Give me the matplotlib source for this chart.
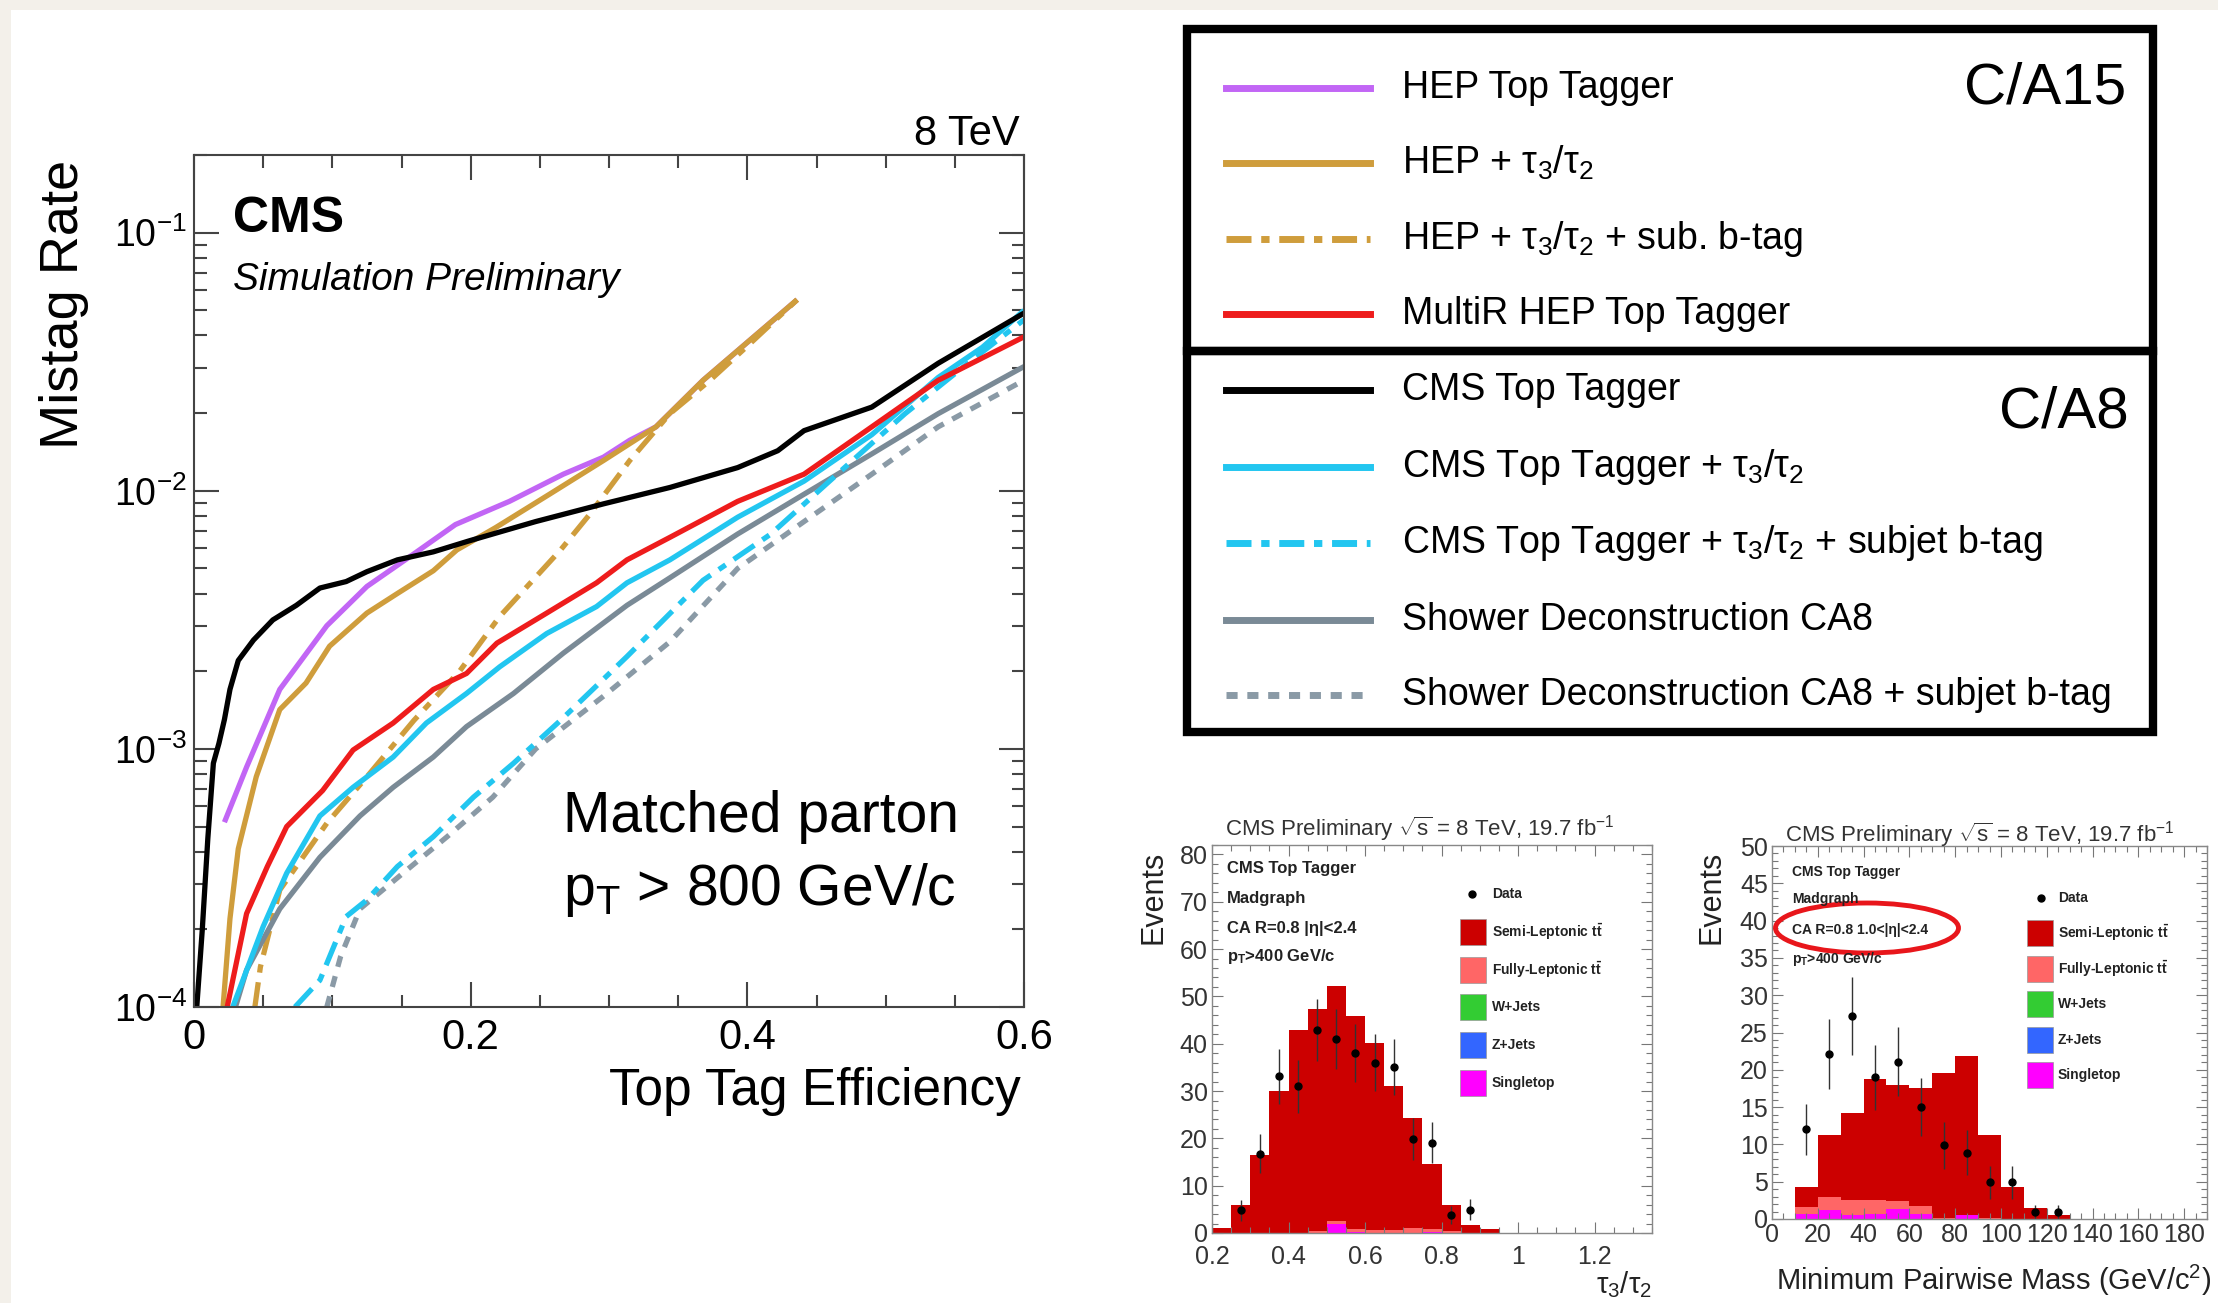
import numpy as np
import matplotlib
matplotlib.use("Agg")
import matplotlib.pyplot as plt
from matplotlib.patches import Rectangle, Ellipse
from matplotlib.lines import Line2D
from matplotlib.ticker import (LogLocator, MultipleLocator, NullFormatter,
                               LogFormatterMathtext, FuncFormatter)

plt.rcParams['font.family'] = ['Liberation Sans', 'DejaVu Sans']
plt.rcParams['mathtext.fontset'] = 'custom'
plt.rcParams['mathtext.rm'] = 'Liberation Sans'
plt.rcParams['mathtext.it'] = 'Liberation Sans:italic'
plt.rcParams['mathtext.bf'] = 'Liberation Sans:bold'
plt.rcParams['mathtext.default'] = 'regular'
plt.rcParams['lines.scale_dashes'] = False

# ---------------- ROC curves: top-tag efficiency vs mistag rate ----------------
hep_eff = [0.022, 0.038, 0.062, 0.096, 0.125, 0.159, 0.189, 0.228, 0.267, 0.296, 0.315, 0.334, 0.368, 0.402, 0.436]
hep_mis = [5.2e-4, 8.5e-4, 1.7e-3, 3.0e-3, 4.26e-3, 5.7e-3, 7.4e-3, 9.1e-3, 1.16e-2, 1.35e-2, 1.57e-2, 1.77e-2, 2.68e-2, 3.84e-2, 5.5e-2]

hep_tau_eff = [0.021, 0.026, 0.032, 0.045, 0.062, 0.081, 0.098, 0.125, 0.147, 0.173, 0.190, 0.218, 0.257, 0.296, 0.334, 0.368, 0.402, 0.436]
hep_tau_mis = [1e-4, 2.2e-4, 4.1e-4, 7.8e-4, 1.42e-3, 1.8e-3, 2.5e-3, 3.36e-3, 4.0e-3, 4.9e-3, 5.9e-3, 7.2e-3, 9.7e-3, 1.31e-2, 1.77e-2, 2.68e-2, 3.84e-2, 5.5e-2]

hep_tau_b_eff = [0.044, 0.048, 0.062, 0.096, 0.125, 0.159, 0.192, 0.221, 0.265, 0.286, 0.315, 0.344, 0.373, 0.402, 0.436]
hep_tau_b_mis = [1e-4, 1.43e-4, 2.84e-4, 5.15e-4, 7.8e-4, 1.29e-3, 2.0e-3, 3.26e-3, 5.9e-3, 8.1e-3, 1.31e-2, 1.99e-2, 2.68e-2, 3.72e-2, 5.5e-2]

multir_eff = [0.024, 0.038, 0.053, 0.067, 0.093, 0.115, 0.144, 0.173, 0.197, 0.219, 0.255, 0.291, 0.313, 0.344, 0.393, 0.441, 0.490, 0.538, 0.6]
multir_mis = [1e-4, 2.3e-4, 3.5e-4, 5.0e-4, 6.9e-4, 9.9e-4, 1.26e-3, 1.7e-3, 1.96e-3, 2.57e-3, 3.36e-3, 4.4e-3, 5.4e-3, 6.6e-3, 9.1e-3, 1.16e-2, 1.77e-2, 2.68e-2, 3.95e-2]

cmstt_eff = [0.002, 0.006, 0.010, 0.014, 0.018, 0.022, 0.026, 0.032, 0.043, 0.057, 0.074, 0.091, 0.110, 0.125, 0.147, 0.173, 0.199, 0.247, 0.296, 0.344, 0.393, 0.422, 0.441, 0.490, 0.538, 0.6]
cmstt_mis = [1e-4, 2.0e-4, 4.5e-4, 8.8e-4, 1.05e-3, 1.3e-3, 1.7e-3, 2.2e-3, 2.64e-3, 3.16e-3, 3.6e-3, 4.2e-3, 4.45e-3, 4.86e-3, 5.4e-3, 5.8e-3, 6.4e-3, 7.6e-3, 8.9e-3, 1.03e-2, 1.23e-2, 1.43e-2, 1.71e-2, 2.11e-2, 3.12e-2, 4.88e-2]

cmstt_tau_eff = [0.028, 0.050, 0.067, 0.091, 0.115, 0.144, 0.168, 0.197, 0.221, 0.255, 0.291, 0.313, 0.344, 0.393, 0.441, 0.490, 0.538, 0.570, 0.6]
cmstt_tau_mis = [1e-4, 2.05e-4, 3.3e-4, 5.5e-4, 7.1e-4, 9.3e-4, 1.26e-3, 1.64e-3, 2.08e-3, 2.8e-3, 3.56e-3, 4.4e-3, 5.4e-3, 7.9e-3, 1.09e-2, 1.65e-2, 2.75e-2, 3.6e-2, 5.0e-2]

cmstt_tau_b_eff = [0.073, 0.091, 0.110, 0.125, 0.147, 0.173, 0.202, 0.231, 0.265, 0.313, 0.368, 0.417, 0.465, 0.514, 0.562, 0.6]
cmstt_tau_b_mis = [1e-4, 1.27e-4, 2.24e-4, 2.6e-4, 3.5e-4, 4.57e-4, 6.5e-4, 8.8e-4, 1.29e-3, 2.28e-3, 4.5e-3, 6.8e-3, 1.16e-2, 1.99e-2, 3.2e-2, 4.6e-2]

sd_eff = [0.030, 0.038, 0.062, 0.091, 0.120, 0.144, 0.173, 0.197, 0.231, 0.267, 0.313, 0.344, 0.393, 0.441, 0.490, 0.538, 0.6]
sd_mis = [1e-4, 1.39e-4, 2.4e-4, 3.8e-4, 5.5e-4, 7.1e-4, 9.3e-4, 1.22e-3, 1.64e-3, 2.35e-3, 3.6e-3, 4.6e-3, 6.8e-3, 9.7e-3, 1.39e-2, 1.99e-2, 3.03e-2]

sd_b_eff = [0.096, 0.106, 0.120, 0.154, 0.183, 0.216, 0.247, 0.296, 0.344, 0.393, 0.441, 0.490, 0.538, 0.6]
sd_b_mis = [1e-4, 1.57e-4, 2.4e-4, 3.4e-4, 4.57e-4, 6.5e-4, 1.0e-3, 1.6e-3, 2.6e-3, 5.0e-3, 7.6e-3, 1.16e-2, 1.77e-2, 2.68e-2]

roc_labels = ["HEP Top Tagger", "HEP + τ$_3$/τ$_2$", "HEP + τ$_3$/τ$_2$ + sub. b-tag",
              "MultiR HEP Top Tagger", "CMS Top Tagger", "CMS Top Tagger + τ$_3$/τ$_2$",
              "CMS Top Tagger + τ$_3$/τ$_2$ + subjet b-tag", "Shower Deconstruction CA8",
              "Shower Deconstruction CA8 + subjet b-tag"]

# ---------------- tau3/tau2 distribution ----------------
tau_edges = [0.20, 0.25, 0.30, 0.35, 0.40, 0.45, 0.50, 0.55, 0.60, 0.65, 0.70, 0.75, 0.80, 0.85, 0.90, 0.95]
tau_semilep = [1.0, 6.0, 16.4, 30.1, 42.9, 47.0, 49.6, 45.1, 39.5, 30.5, 23.4, 13.7, 5.5, 1.7, 0.9]
tau_fullylep = [0, 0, 0, 0, 0, 0.4, 0.5, 0.5, 0.6, 0.6, 1.0, 0.6, 0.4, 0, 0]
tau_singletop = [0, 0, 0, 0, 0, 0, 2.0, 0.3, 0, 0, 0, 0.3, 0, 0, 0]
tau_data_x = [0.275, 0.325, 0.375, 0.425, 0.475, 0.525, 0.575, 0.625, 0.675, 0.725, 0.775, 0.825, 0.875]
tau_data_y = [4.8, 16.8, 33.1, 31.0, 43.0, 41.0, 38.0, 36.0, 35.0, 19.8, 19.1, 3.8, 4.9]

# ---------------- minimum pairwise mass distribution ----------------
mass_edges = [10, 20, 30, 40, 50, 60, 70, 80, 90, 100, 110, 120, 130]
mass_semilep = [2.7, 8.3, 11.6, 16.1, 15.5, 15.7, 19.4, 21.3, 11.1, 4.3, 1.5, 0.5]
mass_fullylep = [0.9, 1.8, 2.0, 1.9, 1.0, 1.1, 0.2, 0.0, 0.2, 0, 0, 0]
mass_singletop = [0.7, 1.2, 0.6, 0.7, 1.4, 0.7, 0.0, 0.5, 0.0, 0, 0, 0]
mass_data_x = [15, 25, 35, 45, 55, 65, 75, 85, 95, 105, 115, 125]
mass_data_y = [12.0, 22.1, 27.2, 19.0, 21.1, 15.0, 9.9, 8.9, 4.9, 4.9, 0.9, 0.9]

bkg_labels = ["Semi-Leptonic $\\mathbf{t\\bar{t}}$", "Fully-Leptonic $\\mathbf{t\\bar{t}}$",
              "W+Jets", "Z+Jets", "Singletop"]
bkg_colors = ["#cc0000", "#ff6666", "#33cc33", "#3366ff", "#ff00ff"]

# ---------------- figure ----------------
W, H = 2218, 1303
fig = plt.figure(figsize=(W / 100, H / 100), dpi=100)
fig.patch.set_facecolor('#f3f0ea')
fig.patches.append(Rectangle((11 / W, 0), 1, 1 - 10 / H, transform=fig.transFigure,
                             facecolor='white', edgecolor='none', zorder=-10))


def px_axes(l, t, r, b):
    return fig.add_axes([l / W, 1 - b / H, (r - l) / W, (b - t) / H])


# ---- main ROC panel ----
styles = [
    dict(color='#c266f5', ls='-'),
    dict(color='#cf9d3c', ls='-'),
    dict(color='#cf9d3c', ls=(0, (18, 7, 6, 7))),
    dict(color='#ee1c1c', ls='-'),
    dict(color='black', ls='-'),
    dict(color='#22c6f0', ls='-'),
    dict(color='#22c6f0', ls=(0, (18, 7, 6, 7))),
    dict(color='#7a8a96', ls='-'),
    dict(color='#8a9aa6', ls=(0, (8, 7))),
]
curves = [(hep_eff, hep_mis), (hep_tau_eff, hep_tau_mis), (hep_tau_b_eff, hep_tau_b_mis),
          (multir_eff, multir_mis), (cmstt_eff, cmstt_mis), (cmstt_tau_eff, cmstt_tau_mis),
          (cmstt_tau_b_eff, cmstt_tau_b_mis), (sd_eff, sd_mis), (sd_b_eff, sd_b_mis)]
draw_order = [0, 1, 2, 8, 7, 6, 5, 3, 4]

ax = px_axes(194, 155, 1024, 1007)
for i in draw_order:
    x, y = curves[i]
    ax.plot(x, y, lw=3.8, solid_capstyle='butt', **styles[i])
ax.set_yscale('log')
ax.set_xlim(0, 0.6)
ax.set_ylim(1e-4, 0.2)
ax.xaxis.set_major_locator(MultipleLocator(0.2))
ax.xaxis.set_minor_locator(MultipleLocator(0.05))
ax.xaxis.set_major_formatter(FuncFormatter(lambda v, p: '%g' % round(v, 3)))
ax.yaxis.set_major_locator(LogLocator(base=10, numticks=10))
ax.yaxis.set_minor_locator(LogLocator(base=10, subs=np.arange(2, 10), numticks=20))
ax.yaxis.set_major_formatter(LogFormatterMathtext())
ax.yaxis.set_minor_formatter(NullFormatter())
ax.tick_params(which='both', direction='in', top=True, right=True, width=1.5, color='#444')
ax.tick_params(which='major', length=18)
ax.tick_params(which='minor', length=9)
ax.tick_params(axis='x', labelsize=30, pad=8)
ax.tick_params(axis='y', labelsize=27, pad=5)
for s in ax.spines.values():
    s.set_linewidth(1.5)
    s.set_color('#444')

# ---- tau3/tau2 panel ----
def stack(axh, edges, comps):
    base = np.zeros(len(comps[0][0]))
    for vals, col in comps:
        top = base + np.asarray(vals, float)
        axh.stairs(top, edges, baseline=base, fill=True, color=col, lw=0)
        base = top


def style_hist(axh):
    axh.tick_params(which='both', direction='in', top=True, right=True, width=0.8,
                    color='#777', labelcolor='#333', labelsize=18, pad=3)
    axh.tick_params(which='major', length=8)
    axh.tick_params(which='minor', length=4)
    for s in axh.spines.values():
        s.set_linewidth(1.0)
        s.set_color('#888')


a1 = px_axes(1212, 845, 1652, 1233)
stack(a1, tau_edges, [(tau_singletop, bkg_colors[4]), (tau_fullylep, bkg_colors[1]),
                      (tau_semilep, bkg_colors[0])])
a1.errorbar(tau_data_x, tau_data_y, yerr=np.sqrt(tau_data_y), fmt='o', color='black',
            ms=5, elinewidth=1.0, ecolor='#333', capsize=0)
a1.set_xlim(0.2, 1.35)
a1.set_ylim(0, 82)
a1.xaxis.set_major_locator(MultipleLocator(0.2))
a1.xaxis.set_minor_locator(MultipleLocator(0.05))
a1.xaxis.set_major_formatter(FuncFormatter(lambda v, p: '%g' % round(v, 3)))
a1.yaxis.set_major_locator(MultipleLocator(10))
a1.yaxis.set_minor_locator(MultipleLocator(2))
style_hist(a1)
a1.tick_params(axis='x', pad=9)

# ---- minimum pairwise mass panel ----
a2 = px_axes(1772, 846, 2207, 1219)
stack(a2, mass_edges, [(mass_singletop, bkg_colors[4]), (mass_fullylep, bkg_colors[1]),
                       (mass_semilep, bkg_colors[0])])
a2.errorbar(mass_data_x, mass_data_y, yerr=np.sqrt(mass_data_y), fmt='o', color='black',
            ms=5, elinewidth=1.0, ecolor='#333', capsize=0)
a2.set_xlim(0, 190)
a2.set_ylim(0, 50)
a2.xaxis.set_major_locator(MultipleLocator(20))
a2.xaxis.set_minor_locator(MultipleLocator(5))
a2.yaxis.set_major_locator(MultipleLocator(5))
a2.yaxis.set_minor_locator(MultipleLocator(1))
a2.yaxis.set_major_formatter(FuncFormatter(lambda v, p: '%d' % v if v > 0 else '0'))
style_hist(a2)

# ---- overlay for annotations, legend box and labels (pixel coordinates) ----
ov = fig.add_axes([0, 0, 1, 1])
ov.set_xlim(0, W)
ov.set_ylim(H, 0)
ov.axis('off')
ov.patch.set_alpha(0)

ov.text(64, 304, "Mistag Rate", rotation=90, ha='center', va='center', fontsize=39)
ov.text(1021, 1092, "Top Tag Efficiency", ha='right', va='center', fontsize=37)
ov.text(1020, 145, "8 TeV", ha='right', va='baseline', fontsize=30)
ov.text(233, 232, "CMS", ha='left', va='baseline', fontsize=36, fontweight='bold')
ov.text(233, 290, "Simulation Preliminary", ha='left', va='baseline', fontsize=28, style='italic')
ov.text(563, 790, "Matched parton\np$_\\mathrm{T}$ > 800 GeV/c", ha='left', va='top',
        fontsize=41, linespacing=1.38)

# legend box
ov.add_patch(Rectangle((1187, 29), 966, 322, fill=False, lw=6, ec='black', joinstyle='miter'))
ov.add_patch(Rectangle((1187, 351), 966, 381, fill=False, lw=6, ec='black', joinstyle='miter'))
row_y = [88, 163, 239, 314, 390, 467, 543, 620, 695]
for i, yy in enumerate(row_y):
    ov.add_line(Line2D([1226, 1370], [yy, yy], lw=5, **styles[i]))
    ov.text(1402, yy, roc_labels[i], ha='left', va='center', fontsize=27)
ov.text(2126, 88, "C/A15", ha='right', va='center', fontsize=42)
ov.text(2129, 412, "C/A8", ha='right', va='center', fontsize=42)

# histogram annotations
ov.text(1225, 836, "CMS Preliminary $\\sqrt{s}$ = 8 TeV, 19.7 fb$^{-1}$", ha='left',
        va='baseline', fontsize=16, color='#333')
ov.text(1785, 842, "CMS Preliminary $\\sqrt{s}$ = 8 TeV, 19.7 fb$^{-1}$", ha='left',
        va='baseline', fontsize=16, color='#333')
ov.text(1153, 897, "Events", rotation=90, ha='center', va='center', fontsize=22, color='#222')
ov.text(1712, 897, "Events", rotation=90, ha='center', va='center', fontsize=22, color='#222')
ov.text(1652, 1300, "τ$_3$/τ$_2$", ha='right', va='bottom', fontsize=21, color='#222')
ov.text(2211, 1290, "Minimum Pairwise Mass (GeV/c$^2$)", ha='right', va='baseline',
        fontsize=21, color='#222')

for x0, ys, lines, fs in [
        (1227, [868, 898, 929, 957], ["CMS Top Tagger", "Madgraph", "CA R=0.8 |η|<2.4",
                                       "p$_\\mathbf{T}$>400 GeV/c"], 12),
        (1792, [872, 899, 930, 959], ["CMS Top Tagger", "Madgraph", "CA R=0.8 1.0<|η|<2.4",
                                       "p$_\\mathbf{T}$>400 GeV/c"], 10)]:
    for yy, t in zip(ys, lines):
        ov.text(x0, yy, t, ha='left', va='center', fontsize=fs, fontweight='bold', color='#222')

for mx, bx, tx, ys, dy in [(1472, 1460, 1492, 932, 37.7), (2041, 2027, 2058, 933, 35.5)]:
    ov.plot([mx], [ys - dy], 'o', color='black', ms=5)
    ov.text(tx, ys - dy, "Data", ha='left', va='center', fontsize=10, fontweight='bold', color='#222')
    for k in range(5):
        yy = ys + k * dy
        ov.add_patch(Rectangle((bx, yy - 13), 26, 26, fc=bkg_colors[k], ec='#999', lw=0.5))
        ov.text(tx, yy, bkg_labels[k], ha='left', va='center', fontsize=10,
                fontweight='bold', color='#222')

ov.add_patch(Ellipse((1867, 928), 183, 50, fill=False, ec='#e8161b', lw=3.5))

fig.savefig("out.png", dpi=100, facecolor=fig.get_facecolor())
